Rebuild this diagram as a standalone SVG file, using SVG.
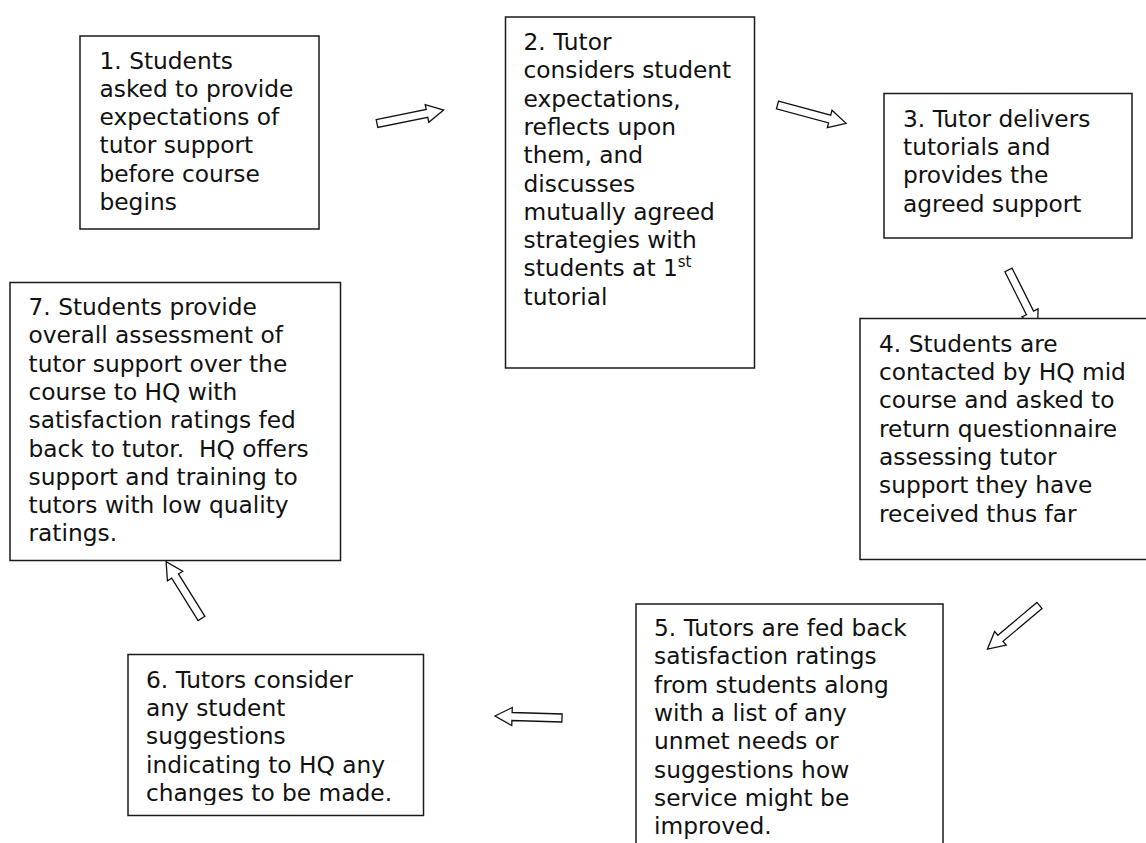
<svg xmlns="http://www.w3.org/2000/svg" width="1146" height="843" viewBox="0 0 1146 843">
<defs>
<style>
.box{fill:#fff;stroke:#1a1a1a;stroke-width:1.5}
.t{font-family:"DejaVu Sans","Verdana","Liberation Sans",sans-serif;font-size:23.3px;fill:#111}
.arr{fill:#fff;stroke:#111;stroke-width:1.3;stroke-linejoin:miter}
</style>
<path id="ba68" d="M0,-4 L51,-4 L51,-9 L68,0 L51,9 L51,4 L0,4 Z"/>
<clipPath id="c6"><rect x="120" y="650" width="310" height="155"/></clipPath>
</defs>
<rect width="1146" height="843" fill="#fff"/>

<g id="connectors">
<path class="arr" transform="translate(377,123.5) rotate(-11.4)" d="M0,-4 L51,-4 L51,-9 L68,0 L51,9 L51,4 L0,4 Z"/>
<path class="arr" transform="translate(777.5,105) rotate(15)" d="M0,-4 L54,-4 L54,-9 L71,0 L54,9 L54,4 L0,4 Z"/>
<path class="arr" transform="translate(1008.5,270) rotate(63.4)" d="M0,-4 L48,-4 L48,-9 L65,0 L48,9 L48,4 L0,4 Z"/>
<path class="arr" transform="translate(1039.5,605.5) rotate(140)" d="M0,-4 L51,-4 L51,-9 L68,0 L51,9 L51,4 L0,4 Z"/>
<path class="arr" transform="translate(562,718) rotate(181.7)" d="M0,-4 L50,-4 L50,-9 L67,0 L50,9 L50,4 L0,4 Z"/>
<path class="arr" transform="translate(201.5,618.5) rotate(-121.9)" d="M0,-4 L50,-4 L50,-9 L67,0 L50,9 L50,4 L0,4 Z"/>
</g>

<g id="node1">
<rect class="box" x="80" y="36" width="239" height="193"/>
<text class="t" x="99.5" y="68.5">1. Students</text>
<text class="t" x="99.5" y="96.8">asked to provide</text>
<text class="t" x="99.5" y="125.1">expectations of</text>
<text class="t" x="99.5" y="153.4">tutor support</text>
<text class="t" x="99.5" y="181.7">before course</text>
<text class="t" x="99.5" y="210">begins</text>
</g>

<g id="node2">
<rect class="box" x="505.5" y="17" width="249" height="351"/>
<text class="t" x="523.5" y="50">2. Tutor</text>
<text class="t" x="523.5" y="78.3">considers student</text>
<text class="t" x="523.5" y="106.6">expectations,</text>
<text class="t" x="523.5" y="134.9">reflects upon</text>
<text class="t" x="523.5" y="163.2">them, and</text>
<text class="t" x="523.5" y="191.5">discusses</text>
<text class="t" x="523.5" y="219.8">mutually agreed</text>
<text class="t" x="523.5" y="248.1">strategies with</text>
<text class="t" x="523.5" y="276.4">students at 1<tspan font-size="15px" dy="-9">st</tspan></text>
<text class="t" x="523.5" y="304.7">tutorial</text>
</g>

<g id="node3">
<rect class="box" x="884" y="93.5" width="248" height="144.5"/>
<text class="t" x="903" y="126.7">3. Tutor delivers</text>
<text class="t" x="903" y="155">tutorials and</text>
<text class="t" x="903" y="183.3">provides the</text>
<text class="t" x="903" y="211.6">agreed support</text>
</g>

<g id="node4">
<rect class="box" x="860" y="318.5" width="300" height="241"/>
<text class="t" x="879" y="351.7">4. Students are</text>
<text class="t" x="879" y="380">contacted by HQ mid</text>
<text class="t" x="879" y="408.3">course and asked to</text>
<text class="t" x="879" y="436.6">return questionnaire</text>
<text class="t" x="879" y="464.9">assessing tutor</text>
<text class="t" x="879" y="493.2">support they have</text>
<text class="t" x="879" y="521.5">received thus far</text>
</g>

<g id="node5">
<rect class="box" x="636" y="604" width="307" height="260"/>
<text class="t" x="654" y="636">5. Tutors are fed back</text>
<text class="t" x="654" y="664.3">satisfaction ratings</text>
<text class="t" x="654" y="692.6">from students along</text>
<text class="t" x="654" y="720.9">with a list of any</text>
<text class="t" x="654" y="749.2">unmet needs or</text>
<text class="t" x="654" y="777.5">suggestions how</text>
<text class="t" x="654" y="805.8">service might be</text>
<text class="t" x="654" y="834.1">improved.</text>
</g>

<g id="node6">
<rect class="box" x="128" y="654.5" width="295.5" height="161"/>
<g clip-path="url(#c6)">
<text class="t" x="146" y="687.7">6. Tutors consider</text>
<text class="t" x="146" y="716">any student</text>
<text class="t" x="146" y="744.3">suggestions</text>
<text class="t" x="146" y="772.6">indicating to HQ any</text>
<text class="t" x="146" y="800.9">changes to be made.</text>
</g>
</g>

<g id="node7">
<rect class="box" x="10" y="282.5" width="330.5" height="278"/>
<text class="t" x="28.5" y="315">7. Students provide</text>
<text class="t" x="28.5" y="343.3">overall assessment of</text>
<text class="t" x="28.5" y="371.6">tutor support over the</text>
<text class="t" x="28.5" y="399.9">course to HQ with</text>
<text class="t" x="28.5" y="428.2">satisfaction ratings fed</text>
<text class="t" x="28.5" y="456.5">back to tutor.&#160; HQ offers</text>
<text class="t" x="28.5" y="484.8">support and training to</text>
<text class="t" x="28.5" y="513.1">tutors with low quality</text>
<text class="t" x="28.5" y="541.4">ratings.</text>
</g>
</svg>
